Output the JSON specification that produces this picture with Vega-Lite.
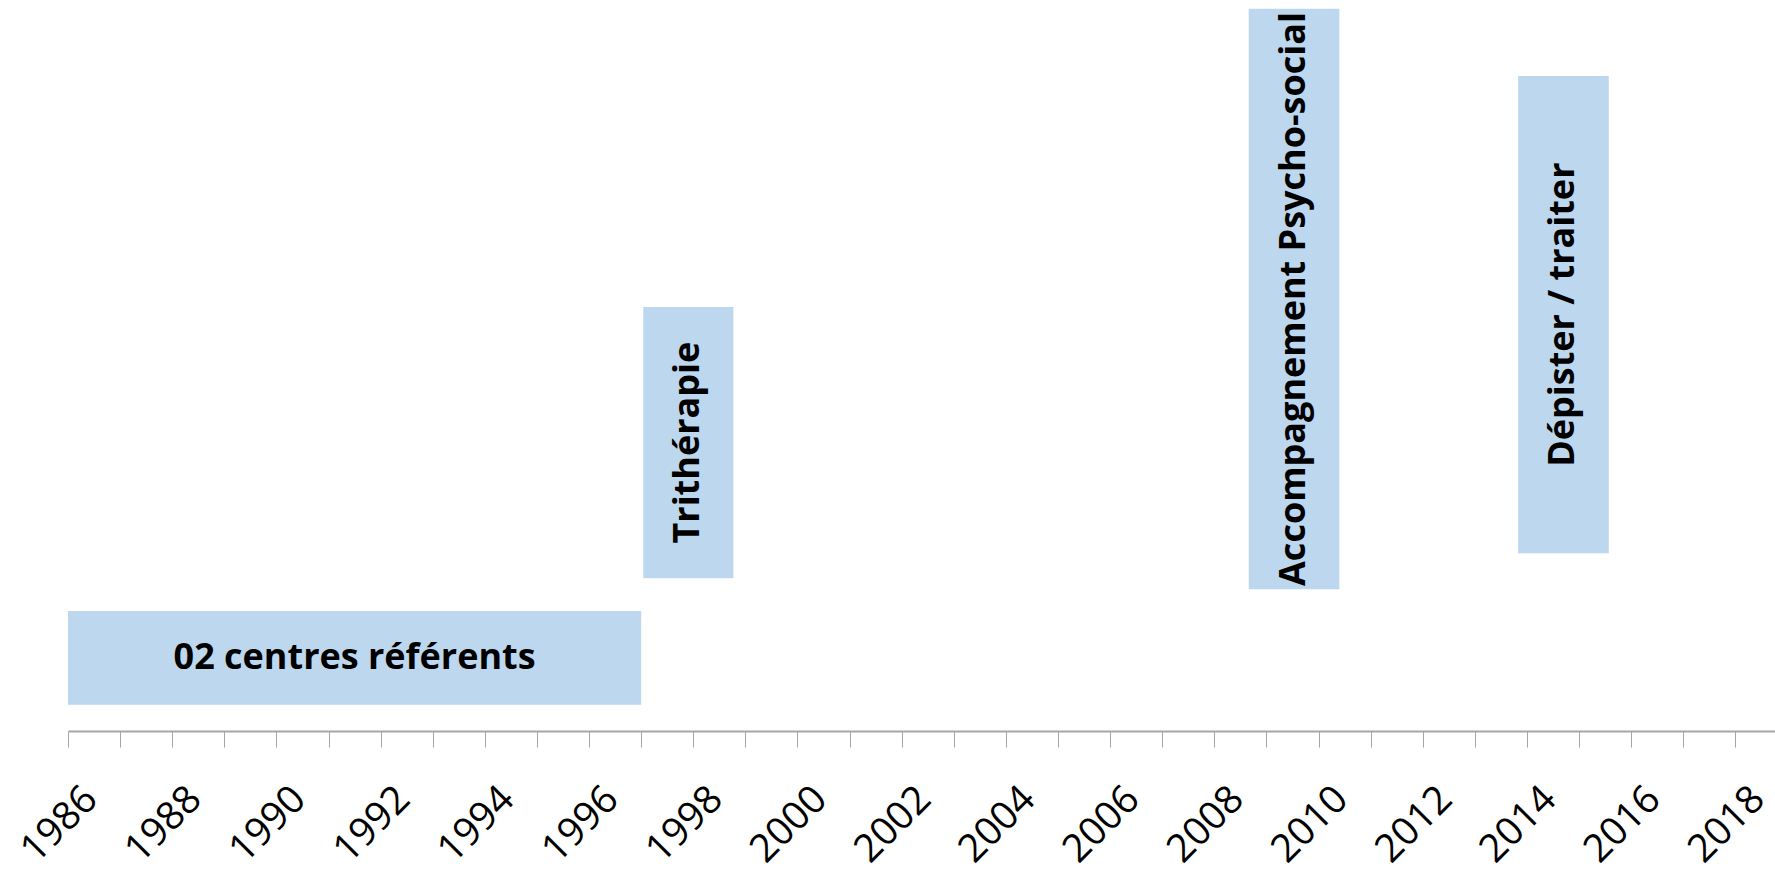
{
  "$schema": "https://vega.github.io/schema/vega-lite/v6.json",
  "width": 1707,
  "height": 731,
  "autosize": {"type": "none"},
  "padding": {"left": 68, "top": 0, "right": 0, "bottom": 144},
  "background": "#ffffff",
  "config": {"view": {"stroke": null}},
  "data": {
    "values": [
      {"label": "02 centres référents", "kind": "period", "start": 1986, "end": 1997, "low": 3.6, "high": 16.4},
      {"label": "Trithérapie", "kind": "event", "start": 1997.04, "end": 1998.77, "low": 20.9, "high": 58.0},
      {"label": "Accompagnement Psycho-social", "kind": "event", "start": 2008.66, "end": 2010.4, "low": 19.4, "high": 98.8},
      {"label": "Dépister / traiter", "kind": "event", "start": 2013.83, "end": 2015.57, "low": 24.3, "high": 89.6}
    ]
  },
  "transform": [
    {"calculate": "(datum.start + datum.end) / 2", "as": "xmid"},
    {"calculate": "(datum.low + datum.high) / 2", "as": "ymid"}
  ],
  "layer": [
    {
      "mark": {"type": "rect", "color": "#BDD7EE"},
      "encoding": {
        "x": {
          "field": "start",
          "type": "quantitative",
          "scale": {"domain": [1986, 2018.76], "nice": false, "zero": false},
          "axis": {
            "values": [1986, 1987, 1988, 1989, 1990, 1991, 1992, 1993, 1994, 1995, 1996, 1997, 1998, 1999, 2000, 2001, 2002, 2003, 2004, 2005, 2006, 2007, 2008, 2009, 2010, 2011, 2012, 2013, 2014, 2015, 2016, 2017, 2018],
            "format": "d",
            "labelExpr": "datum.value % 2 == 0 ? datum.label : ''",
            "title": null,
            "grid": false,
            "domainColor": "#A6A6A6",
            "domainWidth": 2,
            "tickColor": "#A6A6A6",
            "tickWidth": 1,
            "tickSize": 16,
            "labelAngle": -45,
            "labelAlign": "right",
            "labelBaseline": "top",
            "labelPadding": 32,
            "labelOffset": 9,
            "labelFont": "Open Sans",
            "labelFontSize": 39,
            "labelColor": "#000000",
            "labelFlush": false,
            "labelOverlap": false,
            "labelBound": false
          }
        },
        "x2": {"field": "end"},
        "y": {"field": "low", "type": "quantitative", "scale": {"domain": [0, 100], "nice": false, "zero": true}, "axis": null},
        "y2": {"field": "high"}
      }
    },
    {
      "transform": [{"filter": "datum.kind == 'period'"}],
      "mark": {"type": "text", "font": "Open Sans", "fontWeight": "bold", "fontSize": 36, "color": "#000000", "align": "center", "baseline": "middle"},
      "encoding": {
        "x": {"field": "xmid", "type": "quantitative"},
        "y": {"field": "ymid", "type": "quantitative"},
        "text": {"field": "label"}
      }
    },
    {
      "transform": [{"filter": "datum.kind == 'event'"}],
      "mark": {"type": "text", "font": "Open Sans", "fontWeight": "bold", "fontSize": 36, "color": "#000000", "align": "center", "baseline": "middle", "angle": 270},
      "encoding": {
        "x": {"field": "xmid", "type": "quantitative"},
        "y": {"field": "ymid", "type": "quantitative"},
        "text": {"field": "label"}
      }
    }
  ]
}
